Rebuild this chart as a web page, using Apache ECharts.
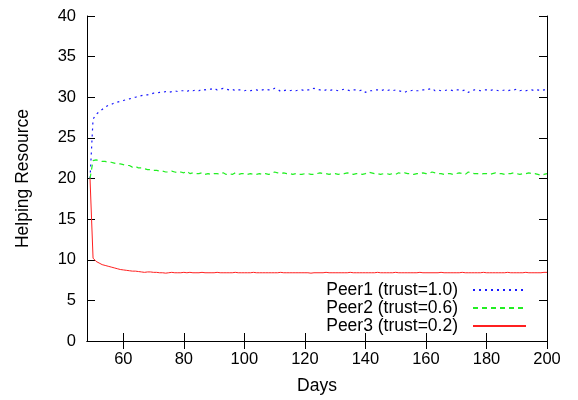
<!DOCTYPE html>
<html>
<head>
<meta charset="utf-8">
<script src="https://cdn.jsdelivr.net/npm/echarts@6/dist/echarts.min.js"></script>
<style>
  html, body { margin: 0; padding: 0; background: #fff; }
  #chart { width: 578px; height: 400px; }
</style>
</head>
<body>
<div id="chart"></div>
<script>
// Helping resource per day for three peers of different trust levels.
const firstDay = 49;
const seriesNames = ['Peer1 (trust=1.0)', 'Peer2 (trust=0.6)', 'Peer3 (trust=0.2)'];

const peer1 = [
  20, 27.3, 27.9, 28.2, 28.5, 28.8, 29.0, 29.1, 29.3, 29.4,
  29.5, 29.6, 29.7, 29.8, 29.9, 30.0, 30.1, 30.2, 30.3, 30.3,
  30.4, 30.5, 30.5, 30.6, 30.6, 30.7, 30.6, 30.7, 30.8, 30.7,
  30.8, 30.8, 30.7, 30.9, 30.8, 30.9, 30.8, 31.0, 30.9, 31.0,
  31.0, 31.1, 30.9, 31.0, 31.1, 31.0, 30.9, 31.0, 30.8, 30.9,
  30.9, 30.8, 30.9, 30.8, 30.9, 30.9, 30.8, 30.9, 31.0, 30.9,
  30.9, 31.1, 31.0, 30.7, 30.8, 30.9, 30.8, 30.9, 30.8, 30.9,
  30.9, 30.8, 30.9, 30.9, 31.1, 31.0, 30.9, 30.8, 30.9, 30.8,
  30.9, 30.9, 30.8, 30.9, 31.0, 30.9, 30.8, 30.9, 30.9, 30.8,
  30.9, 30.6, 30.8, 30.8, 30.9, 30.9, 30.8, 30.9, 30.8, 30.9,
  30.8, 30.9, 30.8, 30.7, 30.6, 30.8, 30.8, 30.9, 30.8, 30.8,
  30.9, 30.9, 31.0, 31.1, 30.8, 30.9, 30.8, 30.8, 30.9, 30.9,
  30.8, 30.9, 30.9, 30.8, 30.9, 30.6, 30.8, 30.9, 30.9, 30.8,
  30.9, 30.9, 30.8, 30.9, 30.9, 30.8, 30.8, 30.9, 30.8, 30.9,
  30.9, 31.0, 30.8, 30.9, 30.8, 30.9, 30.9, 30.8, 30.9, 30.8,
  30.9, 30.9
];

const peer2 = [
  20, 22.2, 22.3, 22.2, 22.1, 22.1, 22.0, 22.0, 21.9, 21.8,
  21.8, 21.7, 21.6, 21.6, 21.4, 21.5, 21.3, 21.3, 21.2, 21.1,
  21.1, 21.0, 21.0, 20.9, 20.9, 20.8, 20.8, 20.9, 20.8, 20.7,
  20.8, 20.7, 20.9, 20.6, 20.7, 20.6, 20.6, 20.7, 20.5, 20.6,
  20.5, 20.6, 20.6, 20.5, 20.7, 20.5, 20.6, 20.5, 20.7, 20.5,
  20.6, 20.6, 20.5, 20.6, 20.5, 20.5, 20.6, 20.5, 20.6, 20.5,
  20.6, 20.8, 20.7, 20.6, 20.7, 20.6, 20.6, 20.5, 20.6, 20.5,
  20.5, 20.6, 20.6, 20.5, 20.5, 20.6, 20.7, 20.6, 20.6, 20.5,
  20.6, 20.6, 20.5, 20.6, 20.6, 20.7, 20.6, 20.5, 20.6, 20.6,
  20.5, 20.6, 20.8, 20.7, 20.6, 20.6, 20.5, 20.6, 20.6, 20.5,
  20.6, 20.5, 20.7, 20.6, 20.7, 20.6, 20.6, 20.5, 20.6, 20.6,
  20.7, 20.6, 20.6, 20.8, 20.7, 20.6, 20.6, 20.5, 20.6, 20.6,
  20.5, 20.6, 20.7, 20.6, 20.5, 20.8, 20.7, 20.6, 20.6, 20.5,
  20.6, 20.6, 20.5, 20.6, 20.7, 20.6, 20.6, 20.5, 20.6, 20.6,
  20.7, 20.6, 20.5, 20.6, 20.6, 20.7, 20.6, 20.6, 20.5, 20.4,
  20.5, 20.6
];

const peer3 = [
  20, 10.2, 9.8, 9.6, 9.4, 9.3, 9.2, 9.1, 9.0, 8.9,
  8.8, 8.75, 8.7, 8.65, 8.6, 8.6, 8.55, 8.5, 8.45, 8.5,
  8.5, 8.45, 8.45, 8.4, 8.4, 8.35, 8.4, 8.45, 8.4, 8.4,
  8.4, 8.45, 8.4, 8.45, 8.4, 8.4, 8.4, 8.45, 8.4, 8.4,
  8.4, 8.4, 8.45, 8.4, 8.4, 8.4, 8.4, 8.4, 8.45, 8.4,
  8.4, 8.4, 8.4, 8.4, 8.45, 8.4, 8.4, 8.4, 8.4, 8.4,
  8.4, 8.4, 8.4, 8.45, 8.4, 8.4, 8.4, 8.4, 8.4, 8.4,
  8.4, 8.4, 8.4, 8.35, 8.4, 8.4, 8.4, 8.4, 8.45, 8.4,
  8.4, 8.4, 8.4, 8.4, 8.4, 8.4, 8.45, 8.4, 8.4, 8.4,
  8.4, 8.4, 8.4, 8.4, 8.4, 8.45, 8.4, 8.4, 8.4, 8.4,
  8.4, 8.45, 8.4, 8.4, 8.4, 8.4, 8.4, 8.4, 8.4, 8.45,
  8.4, 8.4, 8.4, 8.4, 8.4, 8.4, 8.45, 8.4, 8.4, 8.4,
  8.4, 8.4, 8.4, 8.45, 8.4, 8.4, 8.4, 8.4, 8.4, 8.4,
  8.45, 8.4, 8.4, 8.4, 8.4, 8.4, 8.4, 8.4, 8.45, 8.4,
  8.4, 8.4, 8.4, 8.4, 8.45, 8.4, 8.4, 8.4, 8.4, 8.4,
  8.45, 8.45
];

const xTicks = [60, 80, 100, 120, 140, 160, 180, 200];
const yTicks = [0, 5, 10, 15, 20, 25, 30, 35, 40];

const FONT = '"Liberation Sans", Arial, Helvetica, sans-serif';

function toPairs(values) {
  return values.map((v, i) => [firstDay + i, v]);
}

const tickStyle = { show: true, inside: true, length: 8, lineStyle: { color: '#000', width: 1 } };
const lineStyle = { color: '#000', width: 1 };

const chart = echarts.init(document.getElementById('chart'), null, { renderer: 'canvas' });

chart.setOption({
  animation: false,
  backgroundColor: '#fff',
  textStyle: { fontFamily: FONT },
  grid: { left: 87, right: 31, top: 16, bottom: 57 },
  legend: {
    data: seriesNames,
    orient: 'vertical',
    align: 'right',
    right: 46,
    top: 276,
    itemWidth: 53,
    itemHeight: 14,
    itemGap: 0,
    itemStyle: { opacity: 0 },
    textStyle: { fontFamily: FONT, fontSize: 17.5, color: '#000', lineHeight: 18, padding: [0, 10, 0, 0] }
  },
  xAxis: [
    {
      type: 'value', min: 48, max: 200, position: 'bottom',
      name: 'Days', nameLocation: 'middle', nameGap: 36,
      nameTextStyle: { fontFamily: FONT, fontSize: 17.5, color: '#000' },
      axisLine: { show: true, lineStyle },
      axisTick: Object.assign({ customValues: xTicks }, tickStyle),
      axisLabel: { customValues: xTicks, fontFamily: FONT, fontSize: 16.5, color: '#000', margin: 10 },
      splitLine: { show: false }
    },
    {
      type: 'value', min: 48, max: 200, position: 'top',
      axisLine: { show: true, lineStyle },
      axisTick: Object.assign({ customValues: xTicks }, tickStyle),
      axisLabel: { show: false },
      splitLine: { show: false }
    }
  ],
  yAxis: [
    {
      type: 'value', min: 0, max: 40, interval: 5, position: 'left',
      name: 'Helping Resource', nameLocation: 'middle', nameGap: 55,
      nameTextStyle: { fontFamily: FONT, fontSize: 17.5, color: '#000' },
      axisLine: { show: true, lineStyle },
      axisTick: Object.assign({ customValues: yTicks }, tickStyle),
      axisLabel: { customValues: yTicks, fontFamily: FONT, fontSize: 16.5, color: '#000', margin: 11 },
      splitLine: { show: false }
    },
    {
      type: 'value', min: 0, max: 40, interval: 5, position: 'right',
      axisLine: { show: true, lineStyle },
      axisTick: Object.assign({ customValues: yTicks }, tickStyle),
      axisLabel: { show: false },
      splitLine: { show: false }
    }
  ],
  series: [
    {
      name: seriesNames[0], type: 'line', data: toPairs(peer1),
      symbol: 'none', xAxisIndex: 0, yAxisIndex: 0,
      lineStyle: { color: '#1a1aff', width: 1.2, type: [2, 4] },
      itemStyle: { color: '#1a1aff' }
    },
    {
      name: seriesNames[1], type: 'line', data: toPairs(peer2),
      symbol: 'none', xAxisIndex: 0, yAxisIndex: 0,
      lineStyle: { color: '#22ee22', width: 1.2, type: [5, 4] },
      itemStyle: { color: '#22ee22' }
    },
    {
      name: seriesNames[2], type: 'line', data: toPairs(peer3),
      symbol: 'none', xAxisIndex: 0, yAxisIndex: 0,
      lineStyle: { color: '#ff2020', width: 1, type: 'solid' },
      itemStyle: { color: '#ff2020' }
    }
  ]
});
</script>
</body>
</html>
